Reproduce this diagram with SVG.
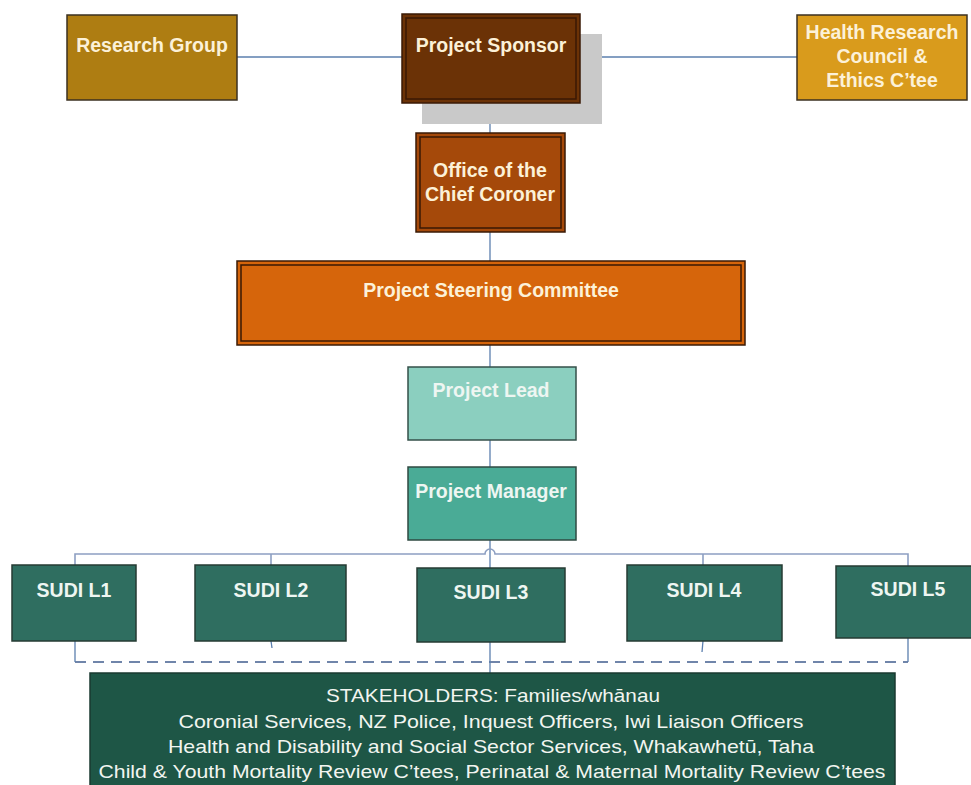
<svg xmlns="http://www.w3.org/2000/svg" width="971" height="785" viewBox="0 0 971 785">
<defs>
<style>
.t{font-family:"Liberation Sans",Arial,sans-serif;font-weight:bold;font-size:19.5px;text-anchor:middle;fill:#fcf1d8}
.tw{font-family:"Liberation Sans",Arial,sans-serif;font-weight:bold;font-size:19.5px;text-anchor:middle;fill:#eef6f2}
.ts{font-family:"Liberation Sans",Arial,sans-serif;font-size:19px;text-anchor:middle;fill:#f2f5f0}
.edge{stroke:#5b7fae;stroke-width:1.3;fill:none}
.bus{stroke:#8d9fc2;stroke-width:1.6;fill:none}
.dash{stroke:#7085aa;stroke-width:2;fill:none;stroke-dasharray:11 7}
.box{stroke:#3b3020;stroke-width:1.5}
.inner{fill:none;stroke:#3a1805;stroke-width:1.5}
.sudi{fill:#2f6e60;stroke:#263b33;stroke-width:1.5}
</style>
</defs>
<rect width="971" height="785" fill="#ffffff"/>

<g id="connectors">
<line class="edge" x1="237" y1="57" x2="402" y2="57"/>
<line class="edge" x1="580" y1="57" x2="797" y2="57"/>
<line class="edge" x1="490" y1="103" x2="490" y2="133"/>
<line class="edge" x1="490" y1="232" x2="490" y2="261"/>
<line class="edge" x1="490" y1="345" x2="490" y2="367"/>
<line class="edge" x1="490" y1="440" x2="490" y2="467"/>
<line class="edge" x1="490" y1="540" x2="490" y2="568"/>
<path class="bus" d="M75 565 V554 H485 A5 5 0 0 1 495 554 H908 V566"/>
<line class="bus" x1="271" y1="554" x2="271" y2="565"/>
<line class="bus" x1="703" y1="554" x2="703" y2="565"/>
<line class="dash" x1="75" y1="662" x2="908" y2="662"/>
<line class="edge" x1="75" y1="641" x2="75" y2="662"/>
<line class="edge" x1="271" y1="641" x2="272" y2="648"/>
<line class="edge" x1="490" y1="642" x2="490" y2="673"/>
<line class="edge" x1="703" y1="641" x2="702" y2="652"/>
<line class="edge" x1="908" y1="638" x2="908" y2="662"/>
</g>

<g id="research-group">
<rect class="box" x="67" y="15" width="170" height="85" fill="#ae7d12"/>
<text class="t" x="152" y="52">Research Group</text>
</g>

<g id="project-sponsor">
<rect x="422" y="34" width="180" height="90" fill="#c9c9c9"/>
<rect x="402" y="14" width="178" height="89" fill="#6b3206" stroke="#3a1a06" stroke-width="1.5"/>
<rect class="inner" x="406" y="18" width="170" height="81"/>
<text class="t" x="491" y="52">Project Sponsor</text>
</g>

<g id="health-research">
<rect class="box" x="797" y="15" width="170" height="85" fill="#d99b1c"/>
<text class="t" x="882" y="39">Health Research</text>
<text class="t" x="882" y="63">Council &amp;</text>
<text class="t" x="882" y="87">Ethics C’tee</text>
</g>

<g id="chief-coroner">
<rect x="416" y="133" width="149" height="99" fill="#a5490a" stroke="#3a1a06" stroke-width="1.5"/>
<rect class="inner" x="420" y="137" width="141" height="91"/>
<text class="t" x="490" y="177">Office of the</text>
<text class="t" x="490" y="201">Chief Coroner</text>
</g>

<g id="steering-committee">
<rect x="237" y="261" width="508" height="84" fill="#d6650b" stroke="#3a1a06" stroke-width="1.5"/>
<rect class="inner" x="241" y="265" width="500" height="76"/>
<text class="t" x="491" y="297">Project Steering Committee</text>
</g>

<g id="project-lead">
<rect x="408" y="367" width="168" height="73" fill="#8bcfbf" stroke="#35504a" stroke-width="1.5"/>
<text class="tw" x="491" y="397">Project Lead</text>
</g>

<g id="project-manager">
<rect x="408" y="467" width="168" height="73" fill="#4aab96" stroke="#2f4a42" stroke-width="1.5"/>
<text class="tw" x="491" y="498">Project Manager</text>
</g>

<g id="sudi-l1">
<rect class="sudi" x="12" y="565" width="124" height="76"/>
<text class="tw" x="74" y="597">SUDI L1</text>
</g>
<g id="sudi-l2">
<rect class="sudi" x="195" y="565" width="151" height="76"/>
<text class="tw" x="271" y="597">SUDI L2</text>
</g>
<g id="sudi-l3">
<rect class="sudi" x="417" y="568" width="148" height="74"/>
<text class="tw" x="491" y="599">SUDI L3</text>
</g>
<g id="sudi-l4">
<rect class="sudi" x="627" y="565" width="155" height="76"/>
<text class="tw" x="704" y="597">SUDI L4</text>
</g>
<g id="sudi-l5">
<rect class="sudi" x="836" y="566" width="140" height="72"/>
<text class="tw" x="908" y="596">SUDI L5</text>
</g>

<g id="stakeholders">
<rect x="90" y="673" width="805" height="116" fill="#1e5646" stroke="#1a3a30" stroke-width="1.5"/>
<text class="ts" x="493" y="702" textLength="334" lengthAdjust="spacingAndGlyphs">STAKEHOLDERS: Families/whānau</text>
<text class="ts" x="491" y="728" textLength="625" lengthAdjust="spacingAndGlyphs">Coronial Services, NZ Police, Inquest Officers, Iwi Liaison Officers</text>
<text class="ts" x="491" y="753" textLength="646" lengthAdjust="spacingAndGlyphs">Health and Disability and Social Sector Services, Whakawhetū, Taha</text>
<text class="ts" x="492" y="778" textLength="787" lengthAdjust="spacingAndGlyphs">Child &amp; Youth Mortality Review C’tees, Perinatal &amp; Maternal Mortality Review C’tees</text>
</g>
</svg>
